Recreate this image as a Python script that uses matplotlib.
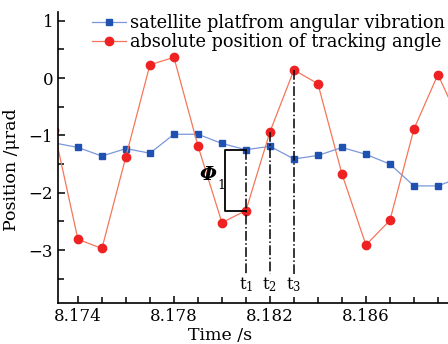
import numpy as np
import matplotlib
matplotlib.use("Agg")
from matplotlib import pyplot as plt
from matplotlib.ticker import MultipleLocator

# time axis (s), one sample every 0.001 s
t = [8.173, 8.174, 8.175, 8.176, 8.177, 8.178, 8.179, 8.180, 8.181,
     8.182, 8.183, 8.184, 8.185, 8.186, 8.187, 8.188, 8.189, 8.190]

# satellite platform angular vibration (urad)
platform = [-1.13, -1.21, -1.36, -1.23, -1.31, -0.98, -0.98, -1.14, -1.25,
            -1.19, -1.41, -1.35, -1.21, -1.33, -1.50, -1.88, -1.88, -1.72]

# absolute position of tracking angle (urad)
tracking = [-0.90, -2.81, -2.97, -1.37, 0.23, 0.36, -1.18, -2.52, -2.31,
            -0.94, 0.14, -0.10, -1.67, -2.91, -2.48, -0.89, 0.06, -0.85]

labels = ["satellite platfrom angular vibration",
          "absolute position of tracking angle"]

# marked instants t1, t2, t3
t_marks = [8.181, 8.182, 8.183]
t_tops = [-1.25, -0.94, 0.14]
t_names = ["1", "2", "3"]

plt.rcParams['font.family'] = ['DejaVu Serif']
plt.rcParams['mathtext.fontset'] = 'dejavuserif'

fig = plt.figure(figsize=(4.48, 3.44), dpi=100)
ax = fig.add_axes([58/448, 1 - 303/344, 390/448, 291/344])

ax.plot(t, platform, color='#7b97dc', lw=0.9, marker='s', ms=5,
        mfc='#1f52b0', mec='#1f52b0', label=labels[0])
ax.plot(t, tracking, color='#f5765a', lw=0.9, marker='o', ms=6,
        mfc='#ee2222', mec='#ee2222', label=labels[1])

# dash-dot lines down to the t labels
for xm, ym, nm in zip(t_marks, t_tops, t_names):
    ax.plot([xm, xm], [ym, -3.41], color='black', lw=1.1, ls='-.')
    ax.text(xm, -3.6, r"$\mathrm{t}_" + nm + "$", ha='center',
            va='center', fontsize=12)

# phase bracket
bx = 8.18013
ax.plot([8.181, bx, bx, 8.181], [-1.25, -1.25, -2.31, -2.31],
        color='black', lw=1.3)
ax.text(8.17942, -1.69, "Φ", ha='center', va='center', fontsize=14,
        style='italic', weight='bold')
ax.text(8.17996, -1.87, "1", ha='center', va='center', fontsize=9)

ax.set_xlim(8.17317, 8.18942)
ax.set_ylim(-3.92, 1.15)
ax.xaxis.set_minor_locator(MultipleLocator(0.001))
ax.yaxis.set_major_locator(MultipleLocator(1))
ax.yaxis.set_minor_locator(MultipleLocator(0.5))
ax.set_xticks([8.174, 8.178, 8.182, 8.186])
ax.set_xticklabels(["8.174", "8.178", "8.182", "8.186"])
ax.tick_params(which='both', direction='in', labelsize=12, width=1.1)
ax.tick_params(which='major', length=5)
ax.tick_params(which='minor', length=4)

for s in ['top', 'right']:
    ax.spines[s].set_visible(False)
for s in ['left', 'bottom']:
    ax.spines[s].set_linewidth(1.2)

ax.set_xlabel("Time /s", fontsize=12.5)
ax.set_ylabel("Position /μrad", fontsize=12.5)
ax.xaxis.set_label_coords((220 - 58) / 390, -(327 - 303) / 291)
ax.yaxis.set_label_coords(-(58 - 20) / 390, (303 - 170) / 291)

ax.legend(loc='upper left', bbox_to_anchor=(0.087, 0.993), frameon=False,
          fontsize=12.8, borderaxespad=0, borderpad=0, handlelength=1.9,
          handletextpad=0.25, labelspacing=0.05)

plt.savefig("out.png", dpi=100)
